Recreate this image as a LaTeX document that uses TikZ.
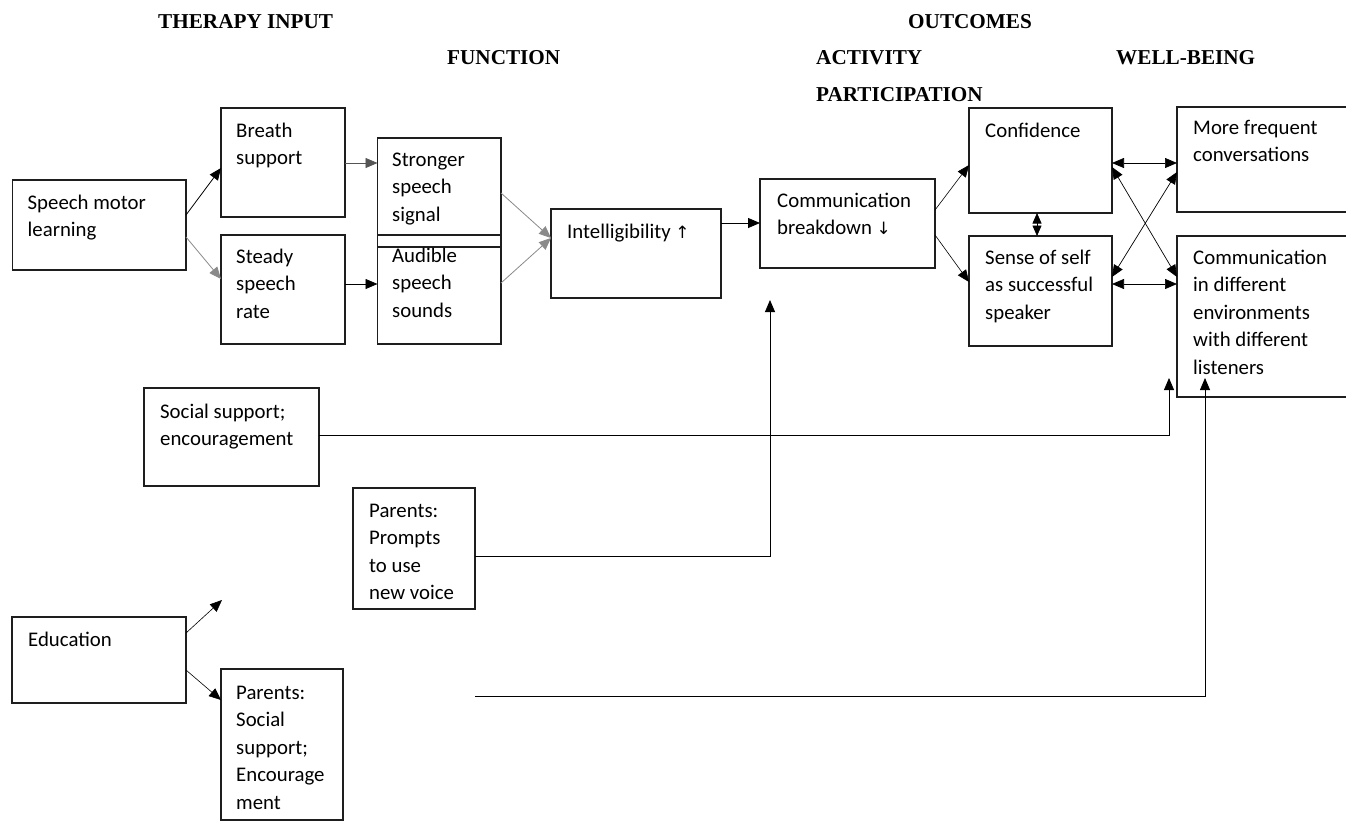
\documentclass[tikz,border=0pt]{standalone}
\usepackage{fontspec}
\setmainfont{Carlito}
\newfontfamily\hdrfont{Liberation Serif}
\newfontfamily\symfont{DejaVu Sans}
\usetikzlibrary{arrows.meta}
\definecolor{boxline}{HTML}{1E1E1E}
\definecolor{lgray}{HTML}{8A8A8A}
\definecolor{mgray}{HTML}{555555}
\begin{document}
\begin{tikzpicture}[x=1pt,y=-1pt,
  box/.style={draw=boxline, line width=1.6pt, anchor=north west, inner sep=0pt, outer sep=0pt},
  txt/.style={anchor=north west, inner sep=0pt, align=left, font=\fontsize{20.8}{27.5}\selectfont},
  hdr/.style={anchor=base west, inner sep=0pt, font=\hdrfont\bfseries\fontsize{21.2}{25}\selectfont},
  arr/.style={-{Triangle[length=12pt,width=10pt]}, line width=0.8pt, draw=black},
  garr/.style={arr, draw=lgray},
  darr/.style={{Triangle[length=12pt,width=10pt]}-{Triangle[length=12pt,width=10pt]}, line width=0.7pt, draw=black},
  sdarr/.style={{Triangle[length=10.5pt,width=9pt]}-{Triangle[length=10.5pt,width=9pt]}, line width=0.7pt, draw=black},
]
\useasboundingbox (0,0) rectangle (1346,822);
\clip (0,0) rectangle (1346,822);
\fill[white] (0,0) rectangle (1346,822);

% headers
\node[hdr] (hther) at (158,28) {THERAPY INPUT};
\node[hdr] (hfun) at (447,64) {FUNCTION};
\node[hdr] (hout) at (908,28) {OUTCOMES};
\node[hdr] (hact) at (816,64) {ACTIVITY};
\node[hdr] (hpar) at (816,101) {PARTICIPATION};
\node[hdr] (hwell) at (1116,64) {WELL-BEING};

% boxes
\node[box, minimum width=173.5pt, minimum height=90pt] (speech) at (12.5,180) {};
\node[box, minimum width=124pt, minimum height=109pt] (breath) at (221,108) {};
\node[box, minimum width=124pt, minimum height=109pt] (steady) at (221,235) {};
\node[box, minimum width=123.5pt, minimum height=109pt] (stronger) at (377.5,138) {};
\node[box, minimum width=123.5pt, minimum height=109pt] (audible) at (377.5,235) {};
\node[box, minimum width=170pt, minimum height=89pt] (intel) at (551,209) {};
\node[box, minimum width=175pt, minimum height=89pt] (comm) at (760,179) {};
\node[box, minimum width=143pt, minimum height=105pt] (conf) at (969,108) {};
\node[box, minimum width=143pt, minimum height=110pt] (sense) at (969,236) {};
\node[box, minimum width=185pt, minimum height=105pt] (more) at (1177,107) {};
\node[box, minimum width=185pt, minimum height=161pt] (env) at (1177,236) {};
\node[box, minimum width=175pt, minimum height=98pt] (social) at (144,388) {};
\node[box, minimum width=122pt, minimum height=121pt] (prompts) at (353,488) {};
\node[box, minimum width=174pt, minimum height=86pt] (edu) at (12,617) {};
\node[box, minimum width=122pt, minimum height=151pt] (psocial) at (221,669) {};

% texts
\node[txt] (tspeech) at (27.5,189.75) {\strut Speech motor\\learning};
\node[txt] (tbreath) at (236,117.75) {\strut Breath\\support};
\node[txt] (tsteady) at (236,243.75) {\strut Steady\\speech\\rate};
\node[txt] (tstronger) at (392,146.75) {\strut Stronger\\speech\\signal};
\node[txt] (taudible) at (392,242.75) {\strut Audible\\speech\\sounds};
\node[txt] (tintel) at (567,218.75) {\strut Intelligibility {\symfont\fontsize{17}{20}\selectfont↑}};
\node[txt] (tcomm) at (777,187.75) {\strut Communication\\breakdown {\symfont\fontsize{17}{20}\selectfont↓}};
\node[txt] (tconf) at (985,117.75) {\strut Confidence};
\node[txt] (tsense) at (985,244.75) {\strut Sense of self\\as successful\\speaker};
\node[txt] (tmore) at (1193,114.75) {\strut More frequent\\conversations};
\node[txt] (tenv) at (1193,244.75) {\strut Communication\\in different\\environments\\with different\\listeners};
\node[txt] (tsocial) at (160,398.75) {\strut Social support;\\encouragement};
\node[txt] (tprompts) at (369,497.75) {\strut Parents:\\Prompts\\to use\\new voice};
\node[txt] (tedu) at (28,626.75) {\strut Education};
\node[txt] (tpsocial) at (236,679.75) {\strut Parents:\\Social\\support;\\Encourage\\ment};

% free coordinates
\coordinate (envin1) at (1169,378);
\coordinate (envin2) at (1205,378);
\coordinate (commin) at (770,300);
\coordinate (pstart) at (475,696);
\coordinate (edufree) at (222,600);

% connectors
\draw[arr] (speech.east |- 0,215) -- (breath.west |- 0,168);
\draw[garr] (speech.east |- 0,237) -- (steady.west |- 0,279);
\draw[arr, draw=mgray] (breath.east |- 0,163) -- (stronger.west |- 0,163);
\draw[arr] (steady.east |- 0,284) -- (audible.west |- 0,284);
\draw[garr] (stronger.east |- 0,193) -- (intel.west |- 0,238);
\draw[garr] (audible.east |- 0,283) -- (intel.west |- 0,238);
\draw[arr] (intel.east |- 0,223) -- (comm.west |- 0,223);
\draw[arr, line width=0.6pt] (comm.east |- 0,210) -- (conf.west |- 0,165);
\draw[arr, line width=0.6pt] (comm.east |- 0,235) -- (sense.west |- 0,282);
\draw[sdarr] (conf.south -| 1037,0) -- (sense.north -| 1037,0);
\draw[darr] (conf.east |- 0,163) -- (more.west |- 0,163);
\draw[darr] (sense.east |- 0,284) -- (env.west |- 0,284);
\draw[darr] (conf.east |- 0,167) -- (env.west |- 0,277);
\draw[darr] (sense.east |- 0,277) -- (more.west |- 0,172);
\draw[arr] (social.east |- 0,435) -| (envin1);
\draw[arr] (prompts.east |- 0,556) -| (commin);
\draw[arr] (pstart) -| (envin2);
\draw[arr, line width=0.6pt] (edu.east |- 0,633) -- (edufree);
\draw[arr, line width=0.6pt] (edu.east |- 0,670) -- (psocial.west |- 0,700);
\end{tikzpicture}
\end{document}
